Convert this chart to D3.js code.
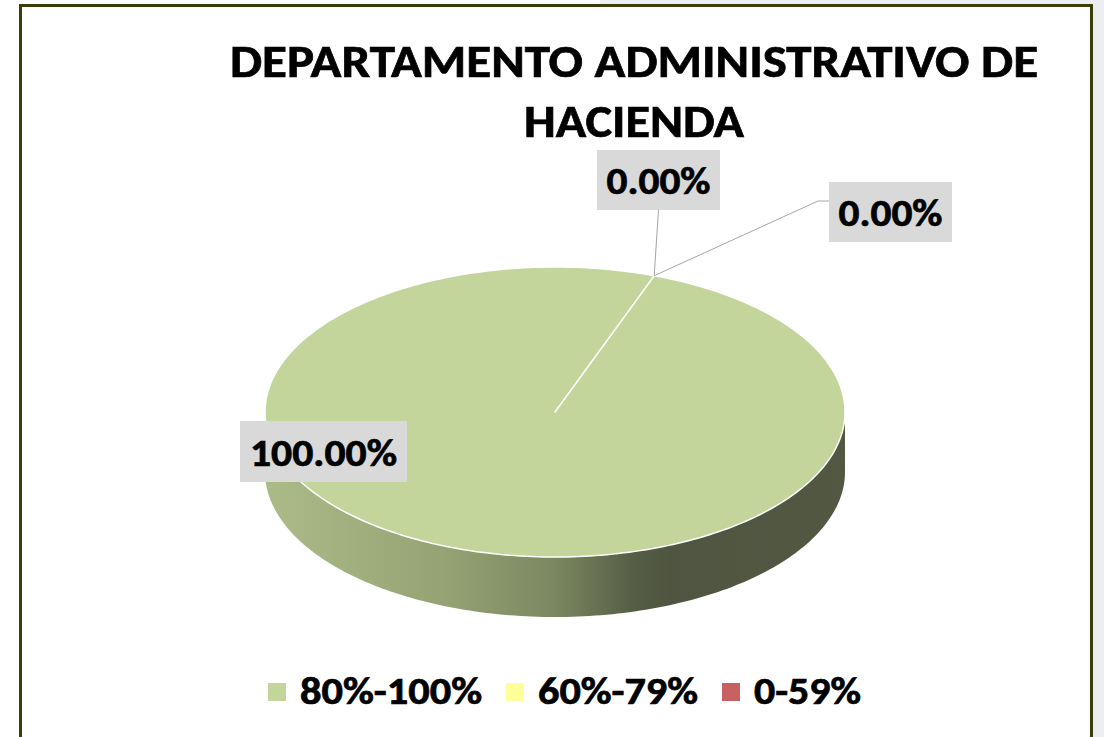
<!DOCTYPE html>
<html>
<head>
<meta charset="utf-8">
<script src="https://cdn.jsdelivr.net/npm/d3@7"></script>
<style>
  body { margin: 0; background: #fff; }
  text { font-family: Carlito, Calibri, "Open Sans", sans-serif; font-weight: 800; fill: #000; stroke: #000; stroke-width: 0.7px; }
</style>
</head>
<body>
<div id="chart"></div>
<script>
// Data
const categories = ["80%-100%", "60%-79%", "0-59%"];
const values = [100, 0, 0];
const colors = ["#c3d59b", "#ffff99", "#c86262"];
const titleLines = ["DEPARTAMENTO ADMINISTRATIVO DE", "HACIENDA"];

const W = 1104, H = 737;
const svg = d3.select("#chart").append("svg")
    .attr("width", W)
    .attr("height", H);

// page background outside the frame
svg.append("rect").attr("x", 1092).attr("y", 0).attr("width", 12).attr("height", H).attr("fill", "#eceef1");
svg.append("rect").attr("x", 600).attr("y", 0).attr("width", 504).attr("height", 4).attr("fill", "#eceef1");

// chart frame
svg.append("rect")
    .attr("x", 20.5).attr("y", 5.5)
    .attr("width", 1071).attr("height", 760)
    .attr("fill", "#fff")
    .attr("stroke", "#3d3d0a")
    .attr("stroke-width", 3);

// Title
const titleWidths = [808, 220];
svg.selectAll("text.title")
    .data(titleLines)
    .enter().append("text")
        .attr("class", "title")
        .attr("x", 634)
        .attr("y", (d, i) => 77 + i * 60)
        .attr("text-anchor", "middle")
        .attr("font-size", 46)
        .attr("textLength", (d, i) => titleWidths[i])
        .attr("lengthAdjust", "spacingAndGlyphs")
        .text(d => d);

// 3D pie geometry
const cx = 555, cy = 412, rx = 290, ry = 145, depth = 60;
const rotation = 20 * Math.PI / 180;

const pie = d3.pie().sort(null).startAngle(rotation).endAngle(rotation + 2 * Math.PI);
const arcs = pie(values);

const px = t => cx + rx * Math.sin(t);
const py = t => cy - ry * Math.cos(t);

function rimPoints(a0, a1, dy) {
    const n = Math.max(2, Math.ceil(Math.abs(a1 - a0) / 0.02));
    return d3.range(n + 1).map(i => {
        const t = a0 + (a1 - a0) * i / n;
        return [px(t), py(t) + dy];
    });
}

const line = d3.line();

// side gradient
const defs = svg.append("defs");
const grad = defs.append("linearGradient")
    .attr("id", "side")
    .attr("gradientUnits", "userSpaceOnUse")
    .attr("x1", cx - rx).attr("x2", cx + rx)
    .attr("y1", 0).attr("y2", 0);
[[0, "#abbb88"], [0.3, "#96a475"], [0.5, "#7b8760"], [0.64, "#555c44"], [0.7, "#4f5540"], [1, "#525842"]]
    .forEach(s => grad.append("stop").attr("offset", s[0]).attr("stop-color", s[1]));

// side wall (front half, angles 90deg..270deg)
const sideTop = rimPoints(Math.PI / 2, 3 * Math.PI / 2, 0);
const sideBottom = rimPoints(3 * Math.PI / 2, Math.PI / 2, depth);
svg.append("path")
    .attr("d", line(sideTop.concat(sideBottom)) + "Z")
    .attr("fill", "url(#side)");

// top faces
arcs.forEach((a, i) => {
    if (a.endAngle - a.startAngle <= 0) return;
    const pts = [[cx, cy]].concat(rimPoints(a.startAngle, a.endAngle, 0));
    svg.append("path")
        .attr("d", line(pts) + "Z")
        .attr("fill", colors[i])
        .attr("stroke", "#fff")
        .attr("stroke-width", 1.5)
        .attr("stroke-linejoin", "round");
});

// Data labels
const labelText = values.map(v => v.toFixed(2) + "%");
const labelBoxes = [
    { x: 240, y: 421, w: 167, h: 61, tw: 147 },
    { x: 597, y: 150, w: 123, h: 60, tw: 104 },
    { x: 829, y: 182, w: 123, h: 60, tw: 104 }
];

// leader lines for the zero slices
const edge = [px(rotation), py(rotation)];
svg.append("path")
    .attr("d", line([edge, [labelBoxes[1].x + labelBoxes[1].w / 2, labelBoxes[1].y + labelBoxes[1].h]]))
    .attr("stroke", "#a6a6a6").attr("fill", "none");
svg.append("path")
    .attr("d", line([edge, [labelBoxes[2].x - 11, labelBoxes[2].y + 19], [labelBoxes[2].x, labelBoxes[2].y + 19]]))
    .attr("stroke", "#a6a6a6").attr("fill", "none");

labelBoxes.forEach((b, i) => {
    svg.append("rect")
        .attr("x", b.x).attr("y", b.y)
        .attr("width", b.w).attr("height", b.h)
        .attr("fill", "#d9d9d9");
    svg.append("text")
        .attr("x", b.x + b.w / 2)
        .attr("y", b.y + b.h / 2 + 14)
        .attr("text-anchor", "middle")
        .attr("font-size", 39)
        .attr("textLength", b.tw)
        .attr("lengthAdjust", "spacingAndGlyphs")
        .text(labelText[i]);
});

// Legend
const legendX = [268, 506, 722];
const legendTW = [182, 160, 107];
const legend = svg.selectAll("g.legend")
    .data(categories)
    .enter().append("g")
        .attr("class", "legend")
        .attr("transform", (d, i) => `translate(${legendX[i]},683)`);
legend.append("rect")
    .attr("width", 18).attr("height", 18)
    .attr("fill", (d, i) => colors[i]);
legend.append("text")
    .attr("x", 32)
    .attr("y", 21)
    .attr("font-size", 39)
    .attr("textLength", (d, i) => legendTW[i])
    .attr("lengthAdjust", "spacingAndGlyphs")
    .text(d => d);
</script>
</body>
</html>
